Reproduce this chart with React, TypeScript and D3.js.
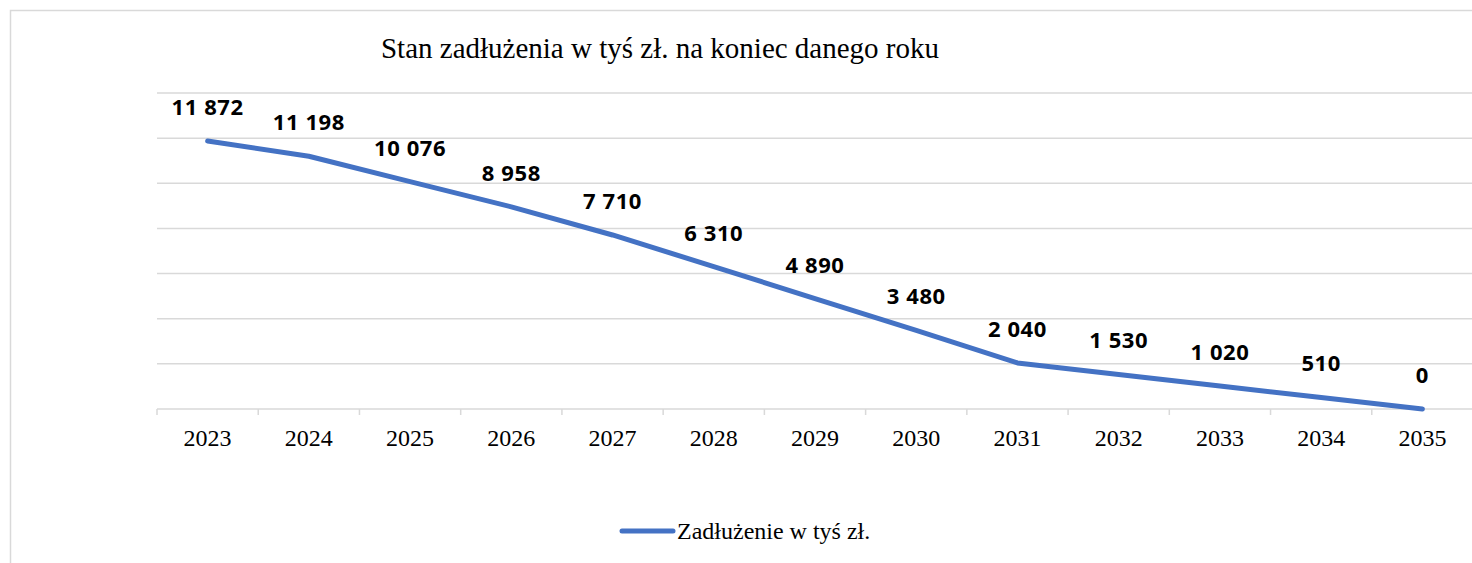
import React from 'react';
import * as d3 from 'd3';

const years = ['2023', '2024', '2025', '2026', '2027', '2028', '2029', '2030', '2031', '2032', '2033', '2034', '2035'];
const debt = [11872, 11198, 10076, 8958, 7710, 6310, 4890, 3480, 2040, 1530, 1020, 510, 0];
const yTicks = [0, 2000, 4000, 6000, 8000, 10000, 12000, 14000];

const title = 'Stan zadłużenia w tyś zł. na koniec danego roku';
const seriesName = 'Zadłużenie w tyś zł.';

const W = 1472;
const H = 563;
const blue = '#4472C4';
const grid = '#D9D9D9';
const serif = '"Liberation Serif", "Times New Roman", serif';
const sans = '"Open Sans", "Noto Sans", sans-serif';

const fmt = (v: number) => d3.format(',')(v).replace(/,/g, ' ');

export default function App() {
  const x = d3.scaleBand<string>().domain(years).range([157, 1473]);
  const y = d3.scaleLinear().domain([0, 14000]).range([409, 93]);
  const cx = (yr: string) => (x(yr) ?? 0) + x.bandwidth() / 2;

  const line = d3
    .line<number>()
    .x((_, i) => cx(years[i]))
    .y((d) => y(d));

  return (
    <div style={{ position: 'absolute', left: 0, top: 0 }}>
      <svg width={W} height={H} style={{ display: 'block', background: '#fff' }}>
        {/* chart frame */}
        <rect x={10.5} y={10.5} width={W + 20} height={H + 20} fill="none" stroke={grid} strokeWidth={1.5} />

        <text x={660} y={58} textAnchor="middle" fontFamily={serif} fontSize={29} fill="#000">
          {title}
        </text>

        {/* gridlines */}
        {yTicks.slice(1).map((t) => (
          <line key={t} x1={157} x2={1473} y1={y(t)} y2={y(t)} stroke={grid} strokeWidth={1.5} />
        ))}

        {/* x axis */}
        <line x1={157} x2={1473} y1={y(0)} y2={y(0)} stroke={grid} strokeWidth={1.5} />
        {years.map((yr) => (
          <line key={'t' + yr} x1={x(yr)} x2={x(yr)} y1={y(0)} y2={y(0) + 6} stroke={grid} strokeWidth={1.5} />
        ))}
        {years.map((yr) => (
          <text key={'l' + yr} x={cx(yr)} y={446} textAnchor="middle" fontFamily={serif} fontSize={24} fill="#000">
            {yr}
          </text>
        ))}

        <path d={line(debt) ?? ''} fill="none" stroke={blue} strokeWidth={5} strokeLinecap="round" strokeLinejoin="round" />

        {debt.map((v, i) => (
          <text
            key={'d' + i}
            x={cx(years[i])}
            y={y(v) - 26}
            textAnchor="middle"
            fontFamily={sans}
            fontWeight="bold"
            fontSize={22}
            letterSpacing={0.6}
            fill="#000"
          >
            {fmt(v)}
          </text>
        ))}

        {/* legend */}
        <line x1={622} x2={673} y1={531} y2={531} stroke={blue} strokeWidth={5} strokeLinecap="round" />
        <text x={677} y={539} fontFamily={serif} fontSize={24} fill="#000">
          {seriesName}
        </text>
      </svg>
    </div>
  );
}
